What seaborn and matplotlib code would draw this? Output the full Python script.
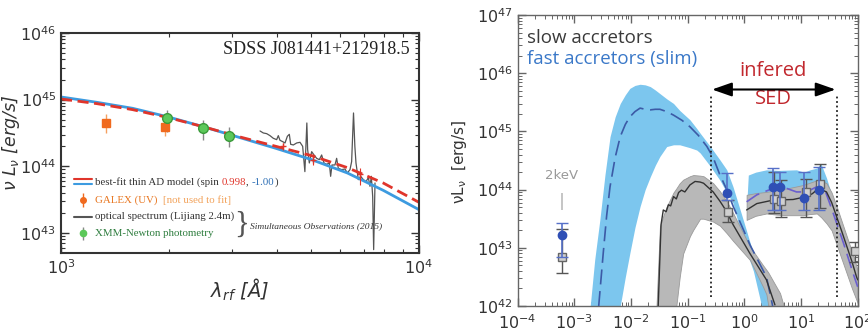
import matplotlib

matplotlib.use("Agg")
import matplotlib.pyplot as plt
import numpy as np
import seaborn as sns
from matplotlib.ticker import FuncFormatter, LogLocator, NullFormatter

sns.set_theme(style="ticks")
plt.rcParams["font.family"] = ["DejaVu Sans"]
plt.rcParams["mathtext.fontset"] = "dejavusans"

# ---------------- left panel: SDSS J081441+212918.5 ----------------
model_loglam = [3.0, 3.1, 3.2, 3.3, 3.4, 3.5, 3.6, 3.7, 3.8, 3.9, 4.0]
model_spin_max = [45.01, 44.94, 44.85, 44.73, 44.59, 44.44, 44.30, 44.16, 43.98, 43.75, 43.46]
model_spin_min = [45.04, 44.96, 44.87, 44.74, 44.59, 44.43, 44.27, 44.10, 43.90, 43.64, 43.35]

spec_lam = [3597, 3674, 3754, 3835, 3918, 4003, 4046, 4090, 4161, 4224, 4288, 4343,
            4381, 4457, 4553, 4652, 4732, 4800, 4861, 4886, 4939, 5014, 5090, 5177,
            5267, 5347, 5427, 5521, 5617, 5665, 5714, 5825, 5888, 5951, 6080, 6212,
            6306, 6415, 6484, 6563, 6620, 6668, 6769, 6872, 6991, 7112, 7220, 7297,
            7360, 7424, 7471, 7536]
spec_logl = [44.53, 44.50, 44.49, 44.46, 44.42, 44.40, 44.46, 44.39, 44.37, 44.35, 44.45, 44.48,
             44.33, 44.32, 44.35, 44.36, 44.30, 43.92, 44.65, 44.25, 44.05, 44.22, 44.17, 44.12,
             44.10, 44.17, 44.05, 44.03, 44.05, 43.85, 44.02, 44.02, 44.12, 43.97, 43.95, 43.96,
             43.90, 43.95, 44.07, 44.80, 44.30, 44.05, 43.80, 43.85, 43.80, 43.77, 43.83, 43.70,
             43.85, 43.55, 42.75, 43.75]

fitpt_lam = [4180, 5070, 6840]
fitpt_logl = [44.30, 44.10, 43.88]
fitpt_lo = [44.25, 44.02, 43.72]
fitpt_hi = [44.35, 44.18, 43.98]

galex_lam = [1337, 1955]
galex_logl = [44.65, 44.59]
galex_lo = [44.50, 44.45]
galex_hi = [44.78, 44.67]

xmm_lam = [1983, 2495, 2951]
xmm_logl = [44.73, 44.57, 44.46]
xmm_lo = [44.52, 44.40, 44.29]
xmm_hi = [44.85, 44.70, 44.59]

# ---------------- right panel: slow vs fast accretors ----------------
fast1_logx = [-2.72, -2.64, -2.55, -2.46, -2.37, -2.28, -2.19, -2.10, -2.02, -1.93,
              -1.84, -1.75, -1.66, -1.57, -1.49, -1.37, -1.25, -1.14, -0.96, -0.84,
              -0.78, -0.60, -0.43, -0.31, -0.20, -0.02, 0.16, 0.30, 0.33, 0.48]
fast1_hi = [42.0, 42.8, 43.48, 44.25, 44.91, 45.25, 45.48, 45.63, 45.74, 45.79,
            45.81, 45.80, 45.77, 45.71, 45.65, 45.56, 45.48, 45.36, 45.20, 45.05,
            44.97, 44.74, 44.51, 44.34, 44.05, 43.48, 42.90, 42.50, 42.45, 42.02]
fast1_lo = [41.0, 41.0, 41.0, 41.0, 41.0, 41.0, 42.0, 42.5, 42.91, 43.35,
            43.71, 44.0, 44.22, 44.42, 44.57, 44.74, 44.77, 44.77, 44.72, 44.68,
            44.63, 44.40, 44.16, 43.95, 43.77, 43.10, 42.60, 42.02, 41.8, 41.5]

fast2_logx = [0.04, 0.07, 0.20, 0.39, 0.60, 0.92, 1.05, 1.16, 1.28, 1.35, 1.45, 1.57, 1.75, 1.92, 2.0]
fast2_hi = [43.70, 44.25, 44.30, 44.34, 44.33, 44.34, 44.30, 44.34, 44.37, 44.45, 44.20, 43.82, 43.30, 42.80, 42.50]
fast2_lo = [43.60, 43.70, 43.75, 43.80, 43.80, 43.80, 43.75, 43.75, 43.80, 43.80, 43.75, 43.35, 42.90, 42.40, 42.20]

slow1_logx = [-1.55, -1.49, -1.43, -1.37, -1.25, -1.20, -1.14, -1.08, -0.96, -0.90, -0.78,
              -0.72, -0.55, -0.43, -0.31, -0.20, 0.10, 0.33, 0.39, 0.42, 0.63, 0.69]
slow1_hi = [42.0, 43.36, 43.55, 43.71, 43.95, 44.02, 44.11, 44.17, 44.23, 44.25, 44.24,
            44.23, 44.11, 43.97, 43.80, 43.60, 43.02, 42.70, 42.62, 42.58, 42.22, 42.02]
slow1_lo = [41.0, 41.0, 41.0, 41.0, 41.0, 42.0, 42.5, 42.9, 43.2, 43.31, 43.5,
            43.5, 43.45, 43.38, 43.25, 43.12, 42.79, 42.33, 42.20, 42.02, 41.5, 41.5]

slow1_line_logx = [-1.52, -1.47, -1.43, -1.38, -1.34, -1.30, -1.25, -1.20, -1.16, -1.11, -1.05,
                   -0.96, -0.87, -0.78, -0.72, -0.55, -0.43, -0.31, -0.20, 0.10, 0.39, 0.54]
slow1_line = [42.0, 43.4, 43.65, 43.62, 43.74, 43.72, 43.88, 43.84, 43.95, 43.99, 43.96,
              44.08, 44.14, 44.13, 44.11, 43.96, 43.80, 43.62, 43.40, 42.90, 42.45, 42.02]

slow2_logx = [0.04, 0.20, 0.39, 0.57, 0.75, 0.90, 1.04, 1.16, 1.28, 1.36, 1.45, 1.54, 1.63,
              1.72, 1.81, 1.90, 1.98, 2.0]
slow2_hi = [43.91, 43.94, 43.96, 43.99, 44.02, 44.05, 44.08, 44.12, 44.16, 44.15, 44.11, 43.95,
            43.71, 43.45, 43.19, 42.93, 42.68, 42.60]
slow2_lo = [43.48, 43.55, 43.59, 43.57, 43.56, 43.56, 43.56, 43.58, 43.59, 43.52, 43.42, 43.30,
            43.05, 42.80, 42.55, 42.30, 42.10, 42.05]

slow2_line_logx = [0.04, 0.22, 0.51, 0.86, 1.10, 1.20, 1.31, 1.45, 1.54, 1.63, 1.72, 1.81, 1.90, 1.98, 2.0]
slow2_line = [43.65, 43.76, 43.82, 43.83, 43.88, 43.93, 44.02, 43.96, 43.78, 43.53, 43.28, 43.02, 42.76, 42.50, 42.45]

fast1_line_logx = [-2.57, -2.49, -2.43, -2.37, -2.28, -2.19, -2.10, -2.02, -1.93, -1.84, -1.75,
                   -1.66, -1.57, -1.49, -1.37, -1.25, -1.10, -0.96, -0.81, -0.66, -0.55, -0.43,
                   -0.31, -0.20, 0.10, 0.39, 0.50]
fast1_line = [42.0, 42.91, 43.55, 44.05, 44.55, 44.91, 45.12, 45.25, 45.34, 45.40, 45.38,
              45.37, 45.38, 45.38, 45.34, 45.28, 45.19, 45.08, 44.93, 44.74, 44.55, 44.25,
              44.00, 43.72, 43.05, 42.50, 42.00]

fast2_line_logx = [0.04, 0.22, 0.45, 0.75, 0.92, 1.10, 1.28, 1.42, 1.57, 1.75, 1.92, 2.0]
fast2_line = [43.79, 43.91, 44.00, 44.02, 43.96, 43.96, 44.05, 44.00, 43.59, 43.08, 42.56, 42.33]

fast_pts_logx = [-3.22, -0.31, 0.50, 0.63, 1.05, 1.32]
fast_pts_logl = [43.22, 43.95, 44.05, 44.04, 43.85, 44.00]
fast_pts_lo = [42.85, 43.82, 43.65, 43.65, 43.65, 43.65]
fast_pts_hi = [43.42, 44.28, 44.37, 44.30, 44.30, 44.39]

slow_pts_logx = [-3.22, -0.29, 0.52, 0.65, 1.08, 1.34, 1.95]
slow_pts_logl = [42.85, 43.62, 43.83, 43.81, 43.96, 44.10, 42.95]
slow_pts_lo = [42.56, 43.45, 43.59, 43.53, 43.53, 43.68, 42.75]
slow_pts_hi = [43.33, 43.82, 44.31, 44.16, 44.19, 44.44, 43.10]

kev2_logx = -3.22
kev2_tick_logl = [43.65, 43.94]
sed_edges_logx = [-0.59, 1.63]

RED = "#e0352b"
BLUE = "#3d9be0"
ORANGE = "#f06a1e"
GREEN = "#5cc85a"
SKY = "#7cc6ee"


def p10(v):
    return 10 ** np.asarray(v, dtype=float)


def yerr(mid, lo, hi):
    m = p10(mid)
    return [m - p10(lo), p10(hi) - m]


fig = plt.figure(figsize=(8.68, 3.32), dpi=100)
ax1 = fig.add_axes([0.0703, 0.238, 0.4124, 0.6627])
ax2 = fig.add_axes([0.5964, 0.0783, 0.3917, 0.8765])

# ---- left panel ----
for ax in (ax1, ax2):
    ax.set_xscale("log")
    ax.set_yscale("log")

sns.lineplot(x=spec_lam, y=p10(spec_logl), ax=ax1, color="#555555", lw=0.9, legend=False)
sns.lineplot(x=p10(model_loglam), y=p10(model_spin_min), ax=ax1, color=BLUE, lw=2.0)
sns.lineplot(x=p10(model_loglam), y=p10(model_spin_max), ax=ax1, color=RED, lw=2.0,
             dashes=False, ls=(0, (4, 2)))
ax1.errorbar(fitpt_lam, p10(fitpt_logl), yerr=yerr(fitpt_logl, fitpt_lo, fitpt_hi),
             fmt="+", color=RED, ms=4, lw=0.8, zorder=4)
ax1.errorbar(galex_lam, p10(galex_logl), yerr=yerr(galex_logl, galex_lo, galex_hi),
             fmt="s", color=ORANGE, ecolor="#f5a060", ms=6, lw=1, zorder=5)
ax1.errorbar(xmm_lam, p10(xmm_logl), yerr=yerr(xmm_logl, xmm_lo, xmm_hi),
             fmt="o", mfc=GREEN, mec="#3a9a3a", ecolor="#888888", ms=7, lw=1, zorder=5)

ax1.set_xlim(1e3, 1e4)
ax1.set_ylim(10 ** 42.7, 1e46)
fmt_it = FuncFormatter(lambda v, _: r"$\mathit{10^{%d}}$" % round(np.log10(v)))
ax1.xaxis.set_major_formatter(fmt_it)
ax1.yaxis.set_major_formatter(fmt_it)
ax1.xaxis.set_minor_formatter(NullFormatter())
ax1.yaxis.set_minor_formatter(NullFormatter())
ax1.tick_params(which="both", direction="in", top=True, right=True, color="#333333",
                labelsize=11.5, labelcolor="#333333")
ax1.tick_params(which="major", length=6, width=1)
ax1.tick_params(which="minor", length=3, width=0.8)
for s in ax1.spines.values():
    s.set_color("#333333")
    s.set_linewidth(1.5)
ax1.set_xlabel(r"$\lambda_{rf}$ [Å]", fontsize=14, style="italic", color="#333333", labelpad=0)
ax1.set_ylabel(r"$\nu$ $L_{\nu}$ [erg/s]", fontsize=12.5, style="italic", color="#333333")
ax1.yaxis.set_label_coords(-0.108, 0.5)

ax1.text(0.975, 0.923, "SDSS J081441+212918.5", transform=ax1.transAxes, ha="right",
         va="center", fontsize=13, family="Liberation Serif", color="#222222")

# hand-drawn legend
serif = "Liberation Serif"
lfs = 7.8
ax1.plot([0.036, 0.087], [0.335, 0.335], transform=ax1.transAxes, color=RED, lw=1.5)
ax1.plot([0.036, 0.087], [0.314, 0.314], transform=ax1.transAxes, color=BLUE, lw=1.5)
t = ax1.text(0.095, 0.324, "best-fit thin AD model (spin ", transform=ax1.transAxes,
             fontsize=lfs, family=serif, color="#333333", va="center")
for piece, col in [("0.998", RED), (", ", "#333333"), ("-1.00", "#2e6fb5"), (")", "#333333")]:
    t = ax1.annotate(piece, xy=(1, 0), xycoords=t, va="bottom", ha="left",
                     fontsize=lfs, family=serif, color=col)
ax1.errorbar([0.061], [0.241], yerr=[[0.03], [0.03]], transform=ax1.transAxes, fmt="o",
             color=ORANGE, ms=4, lw=1)
t = ax1.text(0.095, 0.241, "GALEX (UV)  ", transform=ax1.transAxes, fontsize=lfs,
             family=serif, color="#e8751e", va="center")
ax1.annotate("[not used to fit]", xy=(1, 0), xycoords=t, va="bottom", ha="left",
             fontsize=lfs, family=serif, color="#f2a35c")
ax1.plot([0.036, 0.087], [0.165, 0.165], transform=ax1.transAxes, color="#555555", lw=1.5)
ax1.text(0.095, 0.165, "optical spectrum (Lijiang 2.4m)", transform=ax1.transAxes,
         fontsize=lfs, family=serif, color="#333333", va="center")
ax1.errorbar([0.061], [0.089], yerr=[[0.03], [0.03]], transform=ax1.transAxes, fmt="o",
             color=GREEN, ecolor="#888888", ms=4.5, lw=1)
ax1.text(0.095, 0.089, "XMM-Newton photometry", transform=ax1.transAxes, fontsize=lfs,
         family=serif, color="#2e7d3e", va="center")
ax1.text(0.503, 0.127, "}", transform=ax1.transAxes, fontsize=22, family=serif,
         color="#555555", va="center", ha="center")
ax1.text(0.528, 0.123, "Simultaneous Observations (2015)", transform=ax1.transAxes,
         fontsize=6.8, family=serif, style="italic", color="#333333", va="center")

# ---- right panel ----
ax2.fill_between(p10(fast1_logx), p10(fast1_lo), p10(fast1_hi), color=SKY, lw=0, zorder=1)
ax2.fill_between(p10(fast2_logx), p10(fast2_lo), p10(fast2_hi), color=SKY, lw=0, zorder=1)
ax2.fill_between(p10(slow1_logx), p10(slow1_lo), p10(slow1_hi), facecolor="#b8b8b8",
                 edgecolor="#9a9a9a", lw=0.6, zorder=2)
ax2.fill_between(p10(slow2_logx), p10(slow2_lo), p10(slow2_hi), facecolor="#b8b8b8",
                 edgecolor="#9a9a9a", lw=0.6, zorder=2)
ax2.plot(p10(fast1_line_logx), p10(fast1_line), color="#3c5aa6", lw=1.2,
         ls=(0, (9, 4)), zorder=3)
ax2.plot(p10(fast2_line_logx), p10(fast2_line), color="#6a5fcf", lw=1.2,
         ls=(0, (9, 4)), zorder=3)
ax2.plot(p10(slow1_line_logx), p10(slow1_line), color="#333333", lw=1.0, zorder=3)
ax2.plot(p10(slow2_line_logx), p10(slow2_line), color="#333333", lw=1.0, zorder=3)

ax2.vlines(p10(sed_edges_logx), 10 ** 42.16, 10 ** 45.62, color="#222222", lw=1.3,
           linestyles=(0, (1, 1.5)), zorder=4)
ax2.annotate("", xy=(p10(sed_edges_logx[1] - 0.02), 10 ** 45.72),
             xytext=(p10(sed_edges_logx[0] + 0.02), 10 ** 45.72),
             arrowprops=dict(arrowstyle="<|-|>,head_length=1.0,head_width=0.35",
                             color="black", lw=1.5, shrinkA=0, shrinkB=0), zorder=5)
ax2.text(10 ** 0.51, 10 ** 46.03, "infered", color="#c1272d", ha="center", va="center",
         fontsize=14.5, family="Open Sans")
ax2.text(10 ** 0.51, 10 ** 45.55, "SED", color="#c1272d", ha="center", va="center",
         fontsize=14.5, family="Open Sans")

ax2.errorbar(p10(slow_pts_logx), p10(slow_pts_logl),
             yerr=yerr(slow_pts_logl, slow_pts_lo, slow_pts_hi), fmt="s", mfc="#d0d0d0",
             mec="#666666", ecolor="#555555", ms=6, lw=1, capsize=4, zorder=6)
ax2.errorbar(p10(fast_pts_logx), p10(fast_pts_logl),
             yerr=yerr(fast_pts_logl, fast_pts_lo, fast_pts_hi), fmt="o", mfc="#2f4fb5",
             mec="#2f4fb5", ecolor="#5670c8", ms=6, lw=1.2, capsize=4, zorder=7)

ax2.vlines(p10(kev2_logx), *p10(kev2_tick_logl), color="#bbbbbb", lw=1.2)
ax2.text(p10(kev2_logx), 10 ** 44.25, "2keV", color="#999999", ha="center", va="center",
         fontsize=9.5)

ax2.text(0.026, 0.905, "slow accretors", transform=ax2.transAxes, color="#3a3a3a",
         fontsize=13.5, family="Open Sans", va="baseline")
ax2.text(0.026, 0.833, "fast accretors (slim)", transform=ax2.transAxes, color="#3a78c8",
         fontsize=13.5, family="Open Sans", va="baseline")

ax2.set_xlim(1e-4, 1e2)
ax2.set_ylim(1e42, 1e47)
ax2.xaxis.set_major_locator(LogLocator(base=10, numticks=10))
ax2.xaxis.set_minor_locator(LogLocator(base=10, subs=np.arange(2, 10), numticks=20))
ax2.xaxis.set_minor_formatter(NullFormatter())
ax2.yaxis.set_minor_formatter(NullFormatter())
ax2.tick_params(which="both", direction="in", top=True, right=True, color="#666666",
                labelsize=11.5, labelcolor="#333333")
ax2.tick_params(axis="x", which="major", pad=5)
ax2.tick_params(which="major", length=6, width=1)
ax2.tick_params(which="minor", length=3, width=0.7)
for s in ax2.spines.values():
    s.set_color("#666666")
    s.set_linewidth(1.0)
ax2.set_ylabel(r"$\mathregular{\nu L_\nu}$  [erg/s]", fontsize=11, color="#333333")
ax2.yaxis.set_label_coords(-0.143, 0.495)

fig.savefig("out.png", dpi=100)
